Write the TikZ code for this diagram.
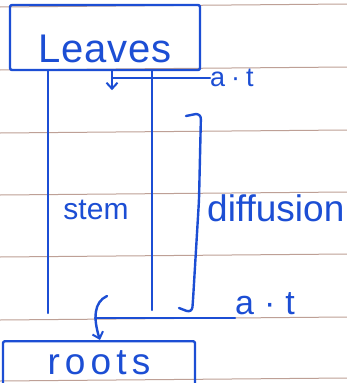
\documentclass[tikz,border=0pt]{standalone}
\usepackage{fontspec}
\setmainfont{Liberation Sans}
\usetikzlibrary{arrows.meta}
\definecolor{ink}{RGB}{28,78,212}
\definecolor{rule}{RGB}{190,160,150}
\tikzset{
  pen/.style={draw=ink, line width=2.4pt, line cap=round, line join=round},
  box/.style={pen, text=ink, rounded corners=2pt, inner xsep=0pt, inner ysep=2pt},
  word/.style={text=ink, inner sep=0pt},
  tip/.style={-{Straight Barb[length=6pt,width=11pt,line width=2pt]}}
}
\newcommand{\wide}[1]{\addfontfeature{LetterSpace=#1}}
\begin{document}
\begin{tikzpicture}[x=1pt,y=-1pt]
    \useasboundingbox (0,0) rectangle (347,383);
    \clip (0,0) rectangle (347,383);
    \fill[white] (0,0) rectangle (347,383);
    % ruled paper
    \foreach \y in {7,70,133,195,257,320,381}
        \draw[rule, line width=1pt] (0,\y) -- (347,\y-3);
    % boxes
    \node[box, minimum width=190pt, text height=55pt, text depth=6pt, font=\fontsize{40}{40}\selectfont\wide{2}] (leaves) at (105,37.5) {Leaves};
    \node[box, anchor=north, minimum width=192pt, text height=31pt, text depth=10pt, font=\fontsize{37}{37}\selectfont\wide{14}] (roots) at (99,340) {roots};
    % labels
    \node[word, font=\fontsize{30}{30}\selectfont] (stem) at (96,210) {stem};
    \node[word, anchor=west, font=\fontsize{37}{37}\selectfont] (diffusion) at (207,208) {diffusion};
    \node[word, anchor=west, font=\fontsize{27}{27}\selectfont] (at1) at (210,78) {a\hspace{6pt}·\hspace{6pt}t};
    \node[word, anchor=west, font=\fontsize{34}{34}\selectfont] (at2) at (235,304) {a\hspace{10pt}·\hspace{10pt}t};
    % stem lines
    \coordinate (stemL) at (48,313);
    \coordinate (stemR) at (152,310);
    \draw[pen] (leaves.south -| stemL) -- (stemL);
    \draw[pen] (leaves.south -| stemR) -- (stemR);
    % a.t down from leaves
    \coordinate (turn1) at (112,78);
    \draw[pen] (at1.west) -- (turn1);
    \draw[pen, tip] (leaves.south -| turn1) -- ++(0,19);
    % diffusion bracket
    \draw[pen, rounded corners=6pt] (186,116) -- (201,113) -- (199,200) -- (193,300) -- (192,313) -- (179,308);
    % a.t into roots
    \coordinate (turn2) at (95,318);
    \draw[pen] (at2.west |- 0,318) -- (220,318) -- (turn2);
    \draw[pen, tip] (107,296) .. controls (94,302) and (93,318) .. (roots.north -| 100,0);
\end{tikzpicture}
\end{document}
